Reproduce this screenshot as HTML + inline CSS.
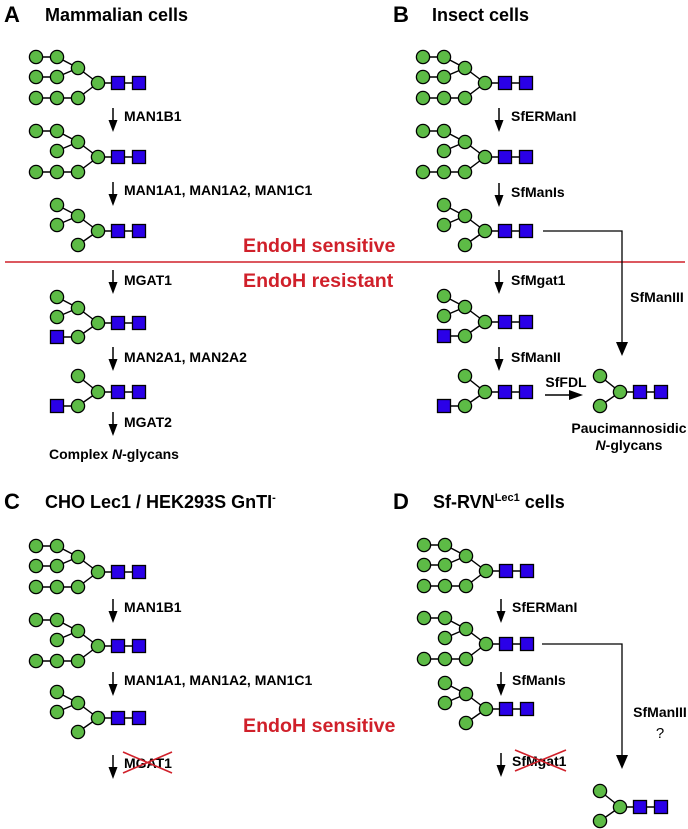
<!DOCTYPE html>
<html><head><meta charset="utf-8"><style>
html,body{margin:0;padding:0;background:#fff;}
svg{display:block;font-family:"Liberation Sans",Arial,sans-serif;}
.t{font-size:18px;font-weight:bold;}
.L{font-size:22px;font-weight:bold;}
.l{font-size:14px;font-weight:bold;}
.r{font-size:19.6px;font-weight:bold;fill:#d0202a;}
</style></head><body>
<svg width="688" height="829" viewBox="0 0 688 829" xmlns="http://www.w3.org/2000/svg">
<defs>
<g id="sq"><line x1="0" y1="0" x2="41" y2="0" stroke="#000" stroke-width="1.4"/>
<rect x="13.5" y="-6.5" width="13" height="13" fill="#2a00e8" stroke="#000" stroke-width="1.3"/>
<rect x="34.5" y="-6.5" width="13" height="13" fill="#2a00e8" stroke="#000" stroke-width="1.3"/></g>
<circle id="c" r="6.6" fill="#5dbb46" stroke="#000" stroke-width="1.3"/>
<g id="man9"><g stroke="#000" stroke-width="1.4" fill="none">
<polyline points="-62,-26 -41,-26 -20,-15 0,0"/><polyline points="-62,-6 -41,-6 -20,-15"/><polyline points="-62,15 -41,15 -20,15 0,0"/></g>
<use href="#sq"/>
<use href="#c" x="-62" y="-26"/><use href="#c" x="-41" y="-26"/><use href="#c" x="-20" y="-15"/>
<use href="#c" x="-62" y="-6"/><use href="#c" x="-41" y="-6"/>
<use href="#c" x="-62" y="15"/><use href="#c" x="-41" y="15"/><use href="#c" x="-20" y="15"/><use href="#c" x="0" y="0"/></g>
<g id="man8"><g stroke="#000" stroke-width="1.4" fill="none">
<polyline points="-62,-26 -41,-26 -20,-15 0,0"/><polyline points="-41,-6 -20,-15"/><polyline points="-62,15 -41,15 -20,15 0,0"/></g>
<use href="#sq"/>
<use href="#c" x="-62" y="-26"/><use href="#c" x="-41" y="-26"/><use href="#c" x="-20" y="-15"/>
<use href="#c" x="-41" y="-6"/>
<use href="#c" x="-62" y="15"/><use href="#c" x="-41" y="15"/><use href="#c" x="-20" y="15"/><use href="#c" x="0" y="0"/></g>
<g id="man5"><g stroke="#000" stroke-width="1.4" fill="none">
<polyline points="-41,-26 -20,-15 0,0"/><polyline points="-41,-6 -20,-15"/><polyline points="-20,14 0,0"/></g>
<use href="#sq"/>
<use href="#c" x="-41" y="-26"/><use href="#c" x="-20" y="-15"/><use href="#c" x="-41" y="-6"/>
<use href="#c" x="-20" y="14"/><use href="#c" x="0" y="0"/></g>
<g id="gn5"><g stroke="#000" stroke-width="1.4" fill="none">
<polyline points="-41,-26 -20,-15 0,0"/><polyline points="-41,-6 -20,-15"/><polyline points="-41,14 -20,14 0,0"/></g>
<use href="#sq"/>
<rect x="-47.5" y="7.5" width="13" height="13" fill="#2a00e8" stroke="#000" stroke-width="1.3"/>
<use href="#c" x="-41" y="-26"/><use href="#c" x="-20" y="-15"/><use href="#c" x="-41" y="-6"/>
<use href="#c" x="-20" y="14"/><use href="#c" x="0" y="0"/></g>
<g id="gn3"><g stroke="#000" stroke-width="1.4" fill="none">
<polyline points="-20,-16 0,0"/><polyline points="-41,14 -20,14 0,0"/></g>
<use href="#sq"/>
<rect x="-47.5" y="7.5" width="13" height="13" fill="#2a00e8" stroke="#000" stroke-width="1.3"/>
<use href="#c" x="-20" y="-16"/><use href="#c" x="-20" y="14"/><use href="#c" x="0" y="0"/></g>
<g id="pauci"><g stroke="#000" stroke-width="1.4" fill="none">
<polyline points="-20,-16 0,0 -20,14"/></g>
<use href="#sq"/>
<use href="#c" x="-20" y="-16"/><use href="#c" x="-20" y="14"/><use href="#c" x="0" y="0"/></g>
<g id="ar"><line x1="0" y1="0" x2="0" y2="16" stroke="#000" stroke-width="1.5"/><polygon points="-4.5,12 4.5,12 0,24" fill="#000"/></g>
</defs>

<text class="L" x="4" y="22">A</text><text class="t" x="45" y="21">Mammalian cells</text>
<text class="L" x="393" y="22">B</text><text class="t" x="432" y="21">Insect cells</text>
<text class="L" x="4" y="509">C</text><text class="t" x="45" y="508">CHO Lec1 / HEK293S GnTI<tspan font-size="11" dy="-7">-</tspan></text>
<text class="L" x="393" y="509">D</text><text class="t" x="433" y="508">Sf-RVN<tspan font-size="11" dy="-7">Lec1</tspan><tspan dy="7"> cells</tspan></text>

<line x1="5" y1="262" x2="685" y2="262" stroke="#d0202a" stroke-width="1.6"/>
<text class="r" x="243" y="252">EndoH sensitive</text>
<text class="r" x="243" y="287">EndoH resistant</text>
<text class="r" x="243" y="732">EndoH sensitive</text>

<use href="#man9" x="98" y="83"/>
<use href="#man8" x="98" y="157"/>
<use href="#man5" x="98" y="231"/>
<use href="#gn5" x="98" y="323"/>
<use href="#gn3" x="98" y="392"/>
<use href="#ar" x="113" y="108"/><text class="l" x="124" y="121">MAN1B1</text>
<use href="#ar" x="113" y="182"/><text class="l" x="124" y="195">MAN1A1, MAN1A2, MAN1C1</text>
<use href="#ar" x="113" y="270"/><text class="l" x="124" y="285">MGAT1</text>
<use href="#ar" x="113" y="347"/><text class="l" x="124" y="362">MAN2A1, MAN2A2</text>
<use href="#ar" x="113" y="412"/><text class="l" x="124" y="427">MGAT2</text>
<text class="l" x="49" y="459">Complex <tspan font-style="italic">N</tspan>-glycans</text>

<use href="#man9" x="485" y="83"/>
<use href="#man8" x="485" y="157"/>
<use href="#man5" x="485" y="231"/>
<use href="#gn5" x="485" y="322"/>
<use href="#gn3" x="485" y="392"/>
<use href="#pauci" x="620" y="392"/>
<use href="#ar" x="499" y="108"/><text class="l" x="511" y="121">SfERManI</text>
<use href="#ar" x="499" y="183"/><text class="l" x="511" y="197">SfManIs</text>
<use href="#ar" x="499" y="270"/><text class="l" x="511" y="285">SfMgat1</text>
<use href="#ar" x="499" y="347"/><text class="l" x="511" y="362">SfManII</text>
<polyline points="543,231 622,231 622,345" fill="none" stroke="#000" stroke-width="1.3"/>
<polygon points="616,342 628,342 622,356" fill="#000"/>
<text class="l" x="657" y="302" text-anchor="middle">SfManIII</text>
<line x1="545" y1="395" x2="572" y2="395" stroke="#000" stroke-width="1.4"/>
<polygon points="569,390 569,400 583,395" fill="#000"/>
<text class="l" x="566" y="387" text-anchor="middle">SfFDL</text>
<text class="l" x="629" y="433" text-anchor="middle">Paucimannosidic</text>
<text class="l" x="629" y="450" text-anchor="middle"><tspan font-style="italic">N</tspan>-glycans</text>

<use href="#man9" x="98" y="572"/>
<use href="#man8" x="98" y="646"/>
<use href="#man5" x="98" y="718"/>
<use href="#ar" x="113" y="599"/><text class="l" x="124" y="612">MAN1B1</text>
<use href="#ar" x="113" y="672"/><text class="l" x="124" y="685">MAN1A1, MAN1A2, MAN1C1</text>
<use href="#ar" x="113" y="755"/><text class="l" x="124" y="768">MGAT1</text>
<g stroke="#d0202a" stroke-width="1.6"><line x1="123" y1="752" x2="172" y2="773"/><line x1="123" y1="773" x2="172" y2="752"/></g>

<use href="#man9" x="486" y="571"/>
<use href="#man8" x="486" y="644"/>
<use href="#man5" x="486" y="709"/>
<use href="#pauci" x="620" y="807"/>
<use href="#ar" x="501" y="599"/><text class="l" x="512" y="612">SfERManI</text>
<use href="#ar" x="501" y="672"/><text class="l" x="512" y="685">SfManIs</text>
<use href="#ar" x="501" y="753"/><text class="l" x="512" y="766">SfMgat1</text>
<g stroke="#d0202a" stroke-width="1.6"><line x1="515" y1="750" x2="566" y2="771"/><line x1="515" y1="771" x2="566" y2="750"/></g>
<polyline points="542,644 622,644 622,758" fill="none" stroke="#000" stroke-width="1.3"/>
<polygon points="616,755 628,755 622,769" fill="#000"/>
<text class="l" x="660" y="717" text-anchor="middle">SfManIII</text>
<text x="660" y="738" text-anchor="middle" font-size="15">?</text>
</svg>
</body></html>
